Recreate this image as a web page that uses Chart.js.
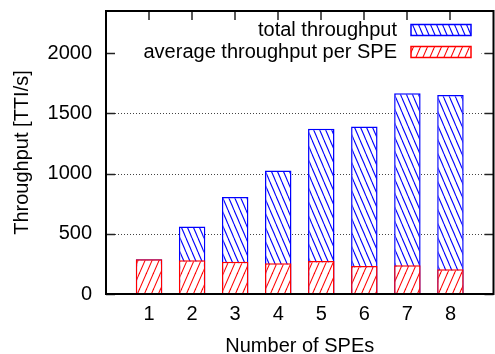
<!DOCTYPE html>
<html><head><meta charset="utf-8">
<script src="https://cdn.jsdelivr.net/npm/chart.js@4"></script>
<style>html,body{margin:0;padding:0;background:#fff}</style>
</head><body>
<canvas id="c" width="495" height="354"></canvas>
<script>
const spes = [1, 2, 3, 4, 5, 6, 7, 8];
const totalThroughput = [288, 561, 806, 1025, 1373, 1390, 1668, 1652];
const avgThroughputPerSPE = [288, 280, 268, 256, 275, 232, 238, 206];
const yTickValues = [0, 500, 1000, 1500, 2000];
const yRange = [0, 2350];
const xRange = [0, 9];
const seriesLabels = ['total throughput', 'average throughput per SPE'];
const xTitle = 'Number of SPEs';
const yTitle = 'Throughput [TTI/s]';

const FONT = 'Liberation Sans, Arial, Helvetica, sans-serif';

function makeHatch(color, w, h, forward) {
  const cv = document.createElement('canvas');
  cv.width = w; cv.height = h;
  const g = cv.getContext('2d');
  g.fillStyle = '#fff';
  g.fillRect(0, 0, w, h);
  g.strokeStyle = color;
  g.lineWidth = 1.1;
  for (const dx of [-w, 0, w]) {
    g.beginPath();
    if (forward) { g.moveTo(dx, h); g.lineTo(dx + w, 0); }
    else { g.moveTo(dx, 0); g.lineTo(dx + w, h); }
    g.stroke();
  }
  return g.createPattern(cv, 'repeat');
}
const colors = ['#0000ff', '#ff0000'];
const patterns = [makeHatch(colors[0], 6, 14, false), makeHatch(colors[1], 7, 16, true)];

const framePlugin = {
  id: 'frame',
  beforeDatasetsDraw(chart) {
    const {ctx, chartArea: a, scales: {y}} = chart;
    ctx.save();
    ctx.strokeStyle = '#444';
    ctx.lineWidth = 1;
    ctx.setLineDash([1, 2]);
    yTickValues.forEach(v => {
      if (v === 0) return;
      const py = Math.round(y.getPixelForValue(v)) + 0.5;
      ctx.beginPath(); ctx.moveTo(a.left + 9, py); ctx.lineTo(a.right - 9, py); ctx.stroke();
    });
    ctx.setLineDash([]);
    ctx.fillStyle = '#fff';
    ctx.fillRect(a.left + 9, a.top + 7, a.right - a.left - 21, 46);
    ctx.restore();
  },
  afterDatasetsDraw(chart) {
    const {ctx, chartArea: a, scales: {x, y}} = chart;
    ctx.save();
    ctx.strokeStyle = '#222';
    ctx.lineWidth = 1.5;
    yTickValues.forEach(v => {
      const py = Math.round(y.getPixelForValue(v)) + 0.5;
      ctx.beginPath(); ctx.moveTo(a.left, py); ctx.lineTo(a.left + 9, py); ctx.stroke();
      ctx.beginPath(); ctx.moveTo(a.right - 9, py); ctx.lineTo(a.right, py); ctx.stroke();
    });
    spes.forEach(v => {
      const px = Math.round(x.getPixelForValue(v));
      ctx.beginPath(); ctx.moveTo(px, a.top); ctx.lineTo(px, a.top + 9); ctx.stroke();
    });
    ctx.strokeStyle = '#000';
    ctx.lineWidth = 2;
    ctx.strokeRect(a.left, a.top, a.right - a.left, a.bottom - a.top);
    ctx.font = '20px ' + FONT;
    ctx.textAlign = 'right';
    ctx.textBaseline = 'middle';
    chart.data.datasets.forEach((ds, i) => {
      const cy = a.top + 19 + i * 22;
      ctx.fillStyle = '#000';
      ctx.fillText(ds.label, a.right - 96.5, cy);
      const bx = a.right - 82.5, bw = 60, bh = 11;
      ctx.fillStyle = patterns[i];
      ctx.fillRect(bx, cy - bh / 2, bw, bh);
      ctx.strokeStyle = colors[i];
      ctx.lineWidth = 1.5;
      ctx.strokeRect(bx, cy - bh / 2, bw, bh);
    });
    ctx.restore();
  }
};

new Chart(document.getElementById('c'), {
  type: 'bar',
  data: {
    labels: spes,
    datasets: [
      {
        label: seriesLabels[0],
        data: spes.map((v, i) => ({x: v, y: totalThroughput[i]})),
        backgroundColor: patterns[0], borderColor: colors[0], borderWidth: 1.5,
        grouped: false, barPercentage: 0.615, categoryPercentage: 1, order: 1
      },
      {
        label: seriesLabels[1],
        data: spes.map((v, i) => ({x: v, y: avgThroughputPerSPE[i]})),
        backgroundColor: patterns[1], borderColor: colors[1], borderWidth: 1.5,
        grouped: false, barPercentage: 0.615, categoryPercentage: 1, order: 0
      }
    ]
  },
  options: {
    responsive: false, animation: false, devicePixelRatio: 1,
    layout: {padding: {left: 0, right: 1.5, top: 11, bottom: 0}},
    plugins: {legend: {display: false}, tooltip: {enabled: false}},
    scales: {
      x: {
        type: 'linear', min: xRange[0], max: xRange[1], offset: false, bounds: 'data',
        afterBuildTicks: s => { s.ticks = spes.map(v => ({value: v})); s.min = xRange[0]; s.max = xRange[1]; },
        afterFit: s => { s.height = 60; s.paddingLeft = 0; s.paddingRight = 0; },
        grid: {display: false, drawTicks: false}, border: {display: false},
        ticks: {padding: 8.5, color: '#000', font: {family: FONT, size: 20}, autoSkip: false, maxRotation: 0, callback: v => String(v)},
        title: {display: true, text: xTitle, color: '#000', font: {family: FONT, size: 20, lineHeight: 1}, padding: {top: 0, bottom: -2.4}}
      },
      y: {
        min: yRange[0], max: yRange[1], bounds: 'data',
        afterBuildTicks: s => { s.ticks = yTickValues.map(v => ({value: v})); s.min = yRange[0]; s.max = yRange[1]; },
        afterFit: s => { s.width = 106; s.paddingTop = 0; s.paddingBottom = 0; },
        grid: {display: false, drawTicks: false}, border: {display: false},
        ticks: {padding: 14, color: '#000', font: {family: FONT, size: 20}, callback: v => String(v)},
        title: {display: true, text: yTitle, color: '#000', font: {family: FONT, size: 20}, padding: {top: 10, bottom: 0}}
      }
    }
  },
  plugins: [framePlugin]
});
</script>
</body></html>
